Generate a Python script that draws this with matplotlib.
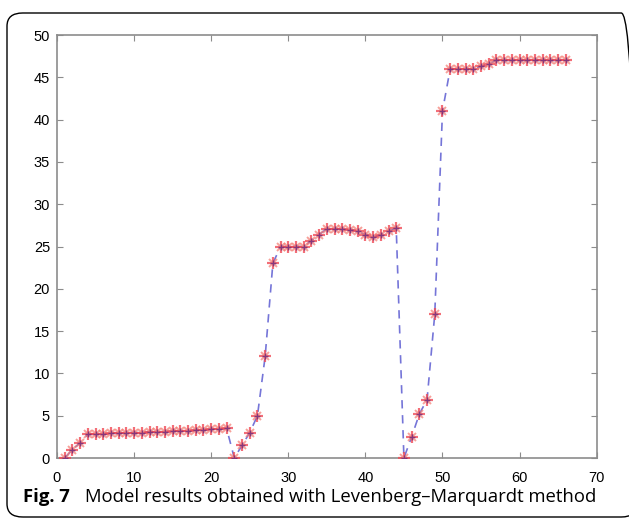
import matplotlib.pyplot as plt
import numpy as np
from matplotlib.patches import FancyBboxPatch

# data (iteration index vs model value)
x = np.arange(1, 67)
seg1 = [0, 1.0, 1.8, 2.8, 2.8, 2.8, 2.9, 2.9, 3.0, 3.0, 3.0, 3.1, 3.1, 3.1,
        3.2, 3.2, 3.2, 3.3, 3.3, 3.4, 3.4, 3.5]
seg2 = [0, 1.5, 3.0, 5.0, 12.0, 23.0, 25.0, 25.0, 25.0, 25.0, 25.7, 26.4,
        27.1, 27.1, 27.1, 27.0, 26.8, 26.4, 26.1, 26.4, 26.8, 27.2]
seg3 = [0, 2.5, 5.2, 6.9, 17.0, 41.0, 46.0, 46.0, 46.0, 46.0, 46.3, 46.6,
        47.0, 47.0, 47.0, 47.0, 47.0, 47.0, 47.0, 47.0, 47.0, 47.0]
y = np.array(seg1 + seg2 + seg3)

caption_bold = "Fig. 7"
caption_text = "Model results obtained with Levenberg\u2013Marquardt method"

fig = plt.figure(figsize=(6.29, 5.25), dpi=100)
ax = fig.add_axes([0.0906, 0.1276, 0.858, 0.8057])

# rounded frame round the whole figure
box = FancyBboxPatch((7 / 629, 8 / 525), 630 / 629, 504 / 525,
                     boxstyle="round,pad=0,rounding_size=0.025",
                     transform=fig.transFigure, fill=False,
                     edgecolor="black", linewidth=1.0, clip_on=False)
fig.patches.append(box)

ax.plot(x, y, linestyle="--", color="#7575d8", linewidth=1.2,
        dashes=(5, 4), zorder=2)
# matlab style asterisk: red plus and cross with a darker centre
ax.plot(x, y, linestyle="none", marker="+", markersize=9,
        color="#f04a55", markeredgewidth=1.6, alpha=0.8, zorder=3)
ax.plot(x, y, linestyle="none", marker="x", markersize=6,
        color="#f47a70", markeredgewidth=1.4, alpha=0.7, zorder=3)
ax.plot(x, y, linestyle="none", marker="+", markersize=4,
        color="#6a2a80", markeredgewidth=1.0, alpha=0.8, zorder=4)

ax.set_xlim(0, 70)
ax.set_ylim(0, 50)
ax.set_xticks(np.arange(0, 71, 10))
ax.set_yticks(np.arange(0, 51, 5))
for s in ax.spines.values():
    s.set_color("#8c8c8c")
    s.set_linewidth(1.2)
ax.tick_params(direction="in", length=4, width=0.8, color="#8c8c8c",
               top=True, right=True, labelsize=10.5, pad=5)
ax.tick_params(axis="x", pad=9)
for lab in ax.get_xticklabels() + ax.get_yticklabels():
    lab.set_fontfamily("Liberation Sans")

fig.text(23 / 629, 1 - 502 / 525, caption_bold, fontsize=13.3,
         fontweight="bold", family="Open Sans", va="baseline", ha="left")
fig.text(85 / 629, 1 - 502 / 525, caption_text, fontsize=13.3,
         family="Open Sans", va="baseline", ha="left")

fig.savefig("out.png", dpi=100)
